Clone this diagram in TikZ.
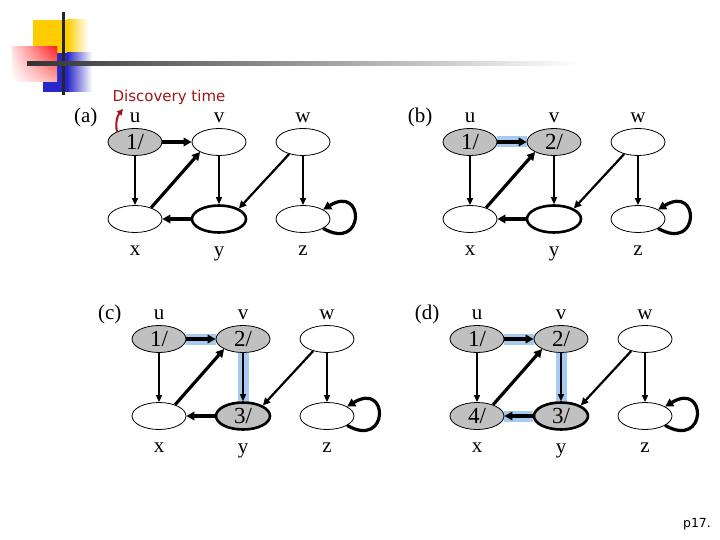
\documentclass[tikz,border=0pt]{standalone}
\usepackage{fontspec}
\setmainfont{Liberation Serif}
\newfontfamily\slidesans{DejaVu Sans}
\usetikzlibrary{arrows.meta,calc,positioning,shapes.geometric,backgrounds,shadings}

\definecolor{seengray}{RGB}{192,192,192}
\definecolor{treeblue}{RGB}{166,202,240}
\definecolor{discred}{RGB}{160,20,20}
\definecolor{barYellow}{RGB}{255,204,0}
\definecolor{barBlue}{RGB}{40,40,200}
\definecolor{barRed}{RGB}{255,30,30}

\tikzset{
  vert/.style={ellipse, draw, line width=0.8pt, minimum width=54pt, minimum height=27pt,
    inner sep=0pt, font=\fontsize{23}{23}\selectfont},
  seen/.style={fill=seengray},
  heavy/.style={line width=2.6pt},
  lbl/.style={inner sep=0pt, font=\fontsize{21}{21}\selectfont},
  edge/.style={line width=1.3pt, -{Triangle[length=7pt,width=6pt]}},
  thickedge/.style={line width=3.2pt, -{Triangle[length=8pt,width=8.5pt]}},
  midedge/.style={line width=2.2pt, -{Triangle[length=7.5pt,width=7pt]}},
  tree/.style={line width=11pt, treeblue},
  discarrow/.style={discred, line width=2pt, -{Triangle[length=6pt,width=6pt]}}
}

\begin{document}
\begin{tikzpicture}[x=1pt, y=-1pt]
\useasboundingbox (0,0) rectangle (720,540);

% title bar
\fill[barYellow] (33,20) rectangle (67,53);
\shade[left color=barYellow, right color=white] (67,20) rectangle (88,53);
\fill[barBlue] (43,53) rectangle (67,92);
\shade[left color=barBlue, right color=white] (67,53) rectangle (92,92);
\shade[upper right=barRed, upper left=barRed!15, lower right=barRed!35, lower left=white]
  (12,47) rectangle (57,82);
\fill[black!85] (61.5,12) rectangle (64.5,95);
\shade[left color=black!80, right color=white] (27,62) rectangle (580,66);

%(a)
\node[vert, seen] (ua) at (135,142) {1/};
\node[vert] (va) at ($(ua)+(84,0)$) {};
\node[vert] (wa) at ($(ua)+(168,0)$) {};
\node[vert] (xa) at ($(ua)+(0,77)$) {};
\node[vert, heavy] (ya) at ($(ua)+(84,77)$) {};
\node[vert] (za) at ($(ua)+(168,77)$) {};

\node[lbl, above=5.5pt of ua] (ula) {u};
\node[lbl, above=5.5pt of va] (vla) {v};
\node[lbl, above=5.5pt of wa] (wla) {w};
\node[lbl, below=13pt of xa] (xla) {x};
\node[lbl, below=13pt of ya] (yla) {y};
\node[lbl, below=13pt of za] (zla) {z};
\node[lbl, left=32pt of ula] (taga) {(a)};

\node[discred, inner sep=0pt, font=\slidesans\fontsize{15}{15}\selectfont]
  (disc) at ($(ua)+(34,-45)$) {Discovery time};
\coordinate (disctip) at ($(ua)+(-12,-33)$);
\draw[discarrow] (ua.150) to[bend left=25] (disctip);

\draw[edge] (ua) -- (xa);
\draw[thickedge] (ua) -- (va);
\draw[thickedge] (xa.35) -- (va.208);
\draw[edge] (va) -- (ya);
\draw[thickedge] (ya) -- (xa);
\draw[midedge] (wa.221) -- (ya.28);
\draw[edge] (wa) -- (za);
\draw[thickedge] (za.-25) .. controls +(42,24) and +(42,-26) .. (za.25);

%(b)
\node[vert, seen] (ub) at (470,142) {1/};
\node[vert, seen] (vb) at ($(ub)+(84,0)$) {2/};
\node[vert] (wb) at ($(ub)+(168,0)$) {};
\node[vert] (xb) at ($(ub)+(0,77)$) {};
\node[vert, heavy] (yb) at ($(ub)+(84,77)$) {};
\node[vert] (zb) at ($(ub)+(168,77)$) {};

\node[lbl, above=5.5pt of ub] (ulb) {u};
\node[lbl, above=5.5pt of vb] (vlb) {v};
\node[lbl, above=5.5pt of wb] (wlb) {w};
\node[lbl, below=13pt of xb] (xlb) {x};
\node[lbl, below=13pt of yb] (ylb) {y};
\node[lbl, below=13pt of zb] (zlb) {z};
\node[lbl, left=32pt of ulb] (tagb) {(b)};

\draw[edge] (ub) -- (xb);
\draw[thickedge] (ub) -- (vb);
\draw[thickedge] (xb.35) -- (vb.208);
\draw[edge] (vb) -- (yb);
\draw[thickedge] (yb) -- (xb);
\draw[midedge] (wb.221) -- (yb.28);
\draw[edge] (wb) -- (zb);
\draw[thickedge] (zb.-25) .. controls +(42,24) and +(42,-26) .. (zb.25);

%(c)
\node[vert, seen] (uc) at (159,339) {1/};
\node[vert, seen] (vc) at ($(uc)+(84,0)$) {2/};
\node[vert] (wc) at ($(uc)+(168,0)$) {};
\node[vert] (xc) at ($(uc)+(0,77)$) {};
\node[vert, seen, heavy] (yc) at ($(uc)+(84,77)$) {3/};
\node[vert] (zc) at ($(uc)+(168,77)$) {};

\node[lbl, above=5.5pt of uc] (ulc) {u};
\node[lbl, above=5.5pt of vc] (vlc) {v};
\node[lbl, above=5.5pt of wc] (wlc) {w};
\node[lbl, below=13pt of xc] (xlc) {x};
\node[lbl, below=13pt of yc] (ylc) {y};
\node[lbl, below=13pt of zc] (zlc) {z};
\node[lbl, left=32pt of ulc] (tagc) {(c)};

\draw[edge] (uc) -- (xc);
\draw[thickedge] (uc) -- (vc);
\draw[thickedge] (xc.35) -- (vc.208);
\draw[edge] (vc) -- (yc);
\draw[thickedge] (yc) -- (xc);
\draw[midedge] (wc.221) -- (yc.28);
\draw[edge] (wc) -- (zc);
\draw[thickedge] (zc.-25) .. controls +(42,24) and +(42,-26) .. (zc.25);

%(d)
\node[vert, seen] (ud) at (477,339) {1/};
\node[vert, seen] (vd) at ($(ud)+(84,0)$) {2/};
\node[vert] (wd) at ($(ud)+(168,0)$) {};
\node[vert, seen] (xd) at ($(ud)+(0,77)$) {4/};
\node[vert, seen, heavy] (yd) at ($(ud)+(84,77)$) {3/};
\node[vert] (zd) at ($(ud)+(168,77)$) {};

\node[lbl, above=5.5pt of ud] (uld) {u};
\node[lbl, above=5.5pt of vd] (vld) {v};
\node[lbl, above=5.5pt of wd] (wld) {w};
\node[lbl, below=13pt of xd] (xld) {x};
\node[lbl, below=13pt of yd] (yld) {y};
\node[lbl, below=13pt of zd] (zld) {z};
\node[lbl, left=32pt of uld] (tagd) {(d)};

\draw[edge] (ud) -- (xd);
\draw[thickedge] (ud) -- (vd);
\draw[thickedge] (xd.35) -- (vd.208);
\draw[edge] (vd) -- (yd);
\draw[thickedge] (yd) -- (xd);
\draw[midedge] (wd.221) -- (yd.28);
\draw[edge] (wd) -- (zd);
\draw[thickedge] (zd.-25) .. controls +(42,24) and +(42,-26) .. (zd.25);

%tree edges
\begin{scope}[on background layer]
\draw[tree] (ub) -- (vb);
\draw[tree] (uc) -- (vc);
\draw[tree] (vc) -- (yc);
\draw[tree] (ud) -- (vd);
\draw[tree] (vd) -- (yd);
\draw[tree] (yd) -- (xd);
\end{scope}

\node[inner sep=0pt, font=\slidesans\fontsize{12.5}{12.5}\selectfont] (page) at (697,524) {p17.};

\end{tikzpicture}
\end{document}
